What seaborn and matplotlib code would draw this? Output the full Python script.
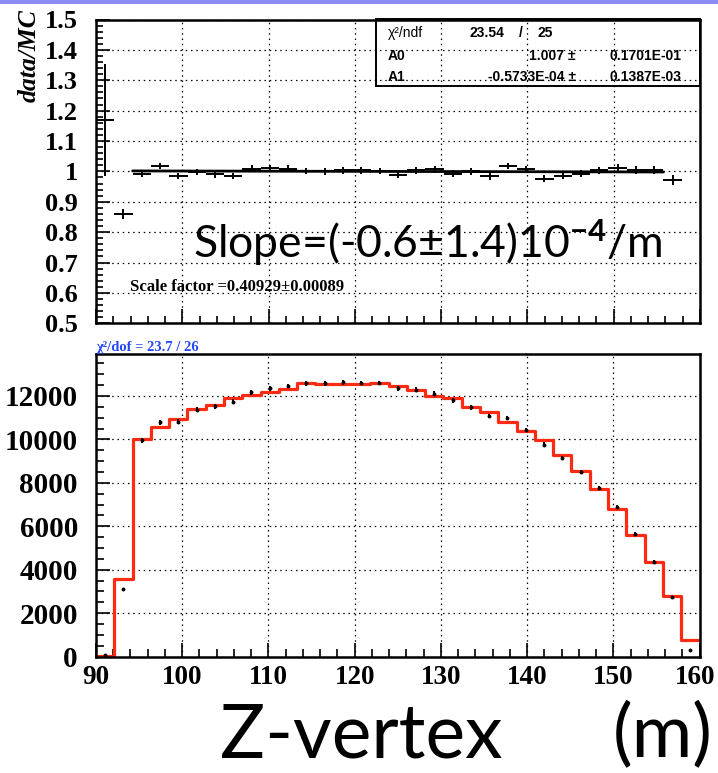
import numpy as np
import pandas as pd
import matplotlib
matplotlib.use("Agg")
import matplotlib.pyplot as plt
import matplotlib.transforms as mtransforms
import seaborn as sns
from matplotlib.ticker import MultipleLocator, FuncFormatter
from matplotlib.patches import Rectangle

# ---------------- data ----------------
x_min, x_max, n_bins = 90.0, 160.0, 33

mc_counts = [45, 3590, 10000, 10590, 10960, 11390, 11600, 11900, 12050, 12200,
             12340, 12590, 12560, 12570, 12570, 12600, 12460, 12265, 12020, 11910,
             11510, 11250, 10790, 10377, 9993, 9287, 8565, 7736, 6800, 5603,
             4344, 2794, 752]

data_counts = [53, 3100, 9950, 10790, 10820, 11375, 11530, 11740, 12170, 12360,
               12460, 12590, 12590, 12630, 12600, 12600, 12360, 12280, 12100, 11800,
               11480, 11080, 10990, 10440, 9763, 9133, 8489, 7782, 6877, 5649,
               4360, 2732, 307]

ratio_values = [1.170, 0.860, 0.993, 1.018, 0.985, 0.998, 0.990, 0.985, 1.009, 1.011,
                1.009, 1.001, 1.000, 1.004, 1.004, 1.001, 0.989, 1.003, 1.007, 0.992,
                1.000, 0.984, 1.018, 1.007, 0.976, 0.985, 0.992, 1.003, 1.011, 1.005,
                1.005, 0.971]

ratio_errors = [0.185, 0.016, 0.011, 0.011, 0.011, 0.011, 0.011, 0.011, 0.011, 0.011,
                0.011, 0.011, 0.011, 0.011, 0.011, 0.011, 0.011, 0.011, 0.011, 0.011,
                0.011, 0.011, 0.011, 0.011, 0.011, 0.011, 0.011, 0.012, 0.012, 0.013,
                0.014, 0.016]

fit_A0 = 1.007
fit_A1 = -0.5733e-4
fit_range = (94.24, 155.76)

stats_rows = [("A0", "1.007 \u00b1", "0.1701E-01"),
              ("A1", "-0.5733E-04 \u00b1", "0.1387E-03")]
chi2_text = "23.54"
ndf_text = "25"
scale_text = "Scale factor =0.40929\u00b10.00089"
slope_text = "Slope=(-0.6\u00b11.4)10$^{\\mathrm{-4}}$/m"
dof_text = "\u03c7\u00b2/dof = 23.7 / 26"
ratio_ticks = [0.5, 0.6, 0.7, 0.8, 0.9, 1.0, 1.1, 1.2, 1.3, 1.4, 1.5]
z_ticks = [90, 100, 110, 120, 130, 140, 150, 160]

# ---------------- style ----------------
sns.set_theme(style="ticks")
plt.rcParams.update({
    "font.family": ["Liberation Serif", "DejaVu Serif"],
    "font.weight": "bold",
    "axes.linewidth": 1.8,
    "axes.edgecolor": "black",
    "text.color": "black",
    "axes.labelcolor": "black",
    "xtick.color": "black",
    "ytick.color": "black",
    "mathtext.fontset": "custom",
    "mathtext.rm": "Lato",
    "mathtext.it": "Lato:italic",
    "mathtext.bf": "Lato:bold",
})

W, H = 718, 773
fig = plt.figure(figsize=(W / 100, H / 100), dpi=100)


def fx(px):
    return px / W


def fy(py):
    return 1 - py / H


ax1 = fig.add_axes([fx(96), fy(323.3), fx(700) - fx(96), fy(19.5) - fy(323.3)])
ax2 = fig.add_axes([fx(96), fy(656.5), fx(699.5) - fx(96), fy(354.3) - fy(656.5)])

edges = np.linspace(x_min, x_max, n_bins + 1)
centers = 0.5 * (edges[:-1] + edges[1:])
half_w = 0.5 * (edges[1:] - edges[:-1])

df = pd.DataFrame({"z": centers, "mc": mc_counts, "data": data_counts})

grid_kw = dict(color="black", linestyle=(0, (1.2, 3.0)), linewidth=0.9)

# ---------------- bottom panel ----------------
sns.histplot(data=df, x="z", weights="mc", bins=n_bins, binrange=(x_min, x_max),
             element="step", fill=False, color="#ff2a12", linewidth=2.3, ax=ax2)
ax2.errorbar(df["z"], df["data"], yerr=np.sqrt(df["data"]), fmt="o", ms=1.8,
             color="black", ecolor="black", elinewidth=1.4, capsize=0, zorder=5)
ax2.set_xlim(x_min, x_max)
ax2.set_ylim(0, 13920)
ax2.set_xticks(z_ticks)
ax2.set_xticklabels([str(t) for t in z_ticks])
ax2.xaxis.set_minor_locator(MultipleLocator(2))
ax2.yaxis.set_major_locator(MultipleLocator(2000))
ax2.yaxis.set_minor_locator(MultipleLocator(500))
ax2.tick_params(which="both", direction="in", top=False, right=False, width=1.2)
ax2.tick_params(which="major", length=10)
ax2.tick_params(which="minor", length=6)
ax2.tick_params(axis="y", labelsize=21, pad=13)
ax2.tick_params(axis="x", labelsize=19.5, pad=6)
ax2.grid(True, which="major", **grid_kw)
ax2.set_xlabel("")
ax2.set_ylabel("")
for lab in ax2.get_xticklabels() + ax2.get_yticklabels():
    lab.set_fontweight("bold")
# keep the last x label inside the picture
last_lab = ax2.get_xticklabels()[-1]
last_lab.set_transform(last_lab.get_transform() +
                       mtransforms.ScaledTranslation(-4 / 100, 0, fig.dpi_scale_trans))

# ---------------- top panel ----------------
ax1.errorbar(centers[:len(ratio_values)], ratio_values, xerr=half_w[:len(ratio_values)],
             yerr=ratio_errors, fmt="none", ecolor="black", elinewidth=1.4, capsize=0, zorder=4)
fit_x = np.array(fit_range)
fit_df = pd.DataFrame({"x": fit_x, "y": fit_A0 + fit_A1 * fit_x})
sns.lineplot(data=fit_df, x="x", y="y", color="black", linewidth=2.0, ax=ax1, zorder=5)
ax1.set_xlim(x_min, x_max)
ax1.set_ylim(0.5, 1.5)
ax1.xaxis.set_major_locator(MultipleLocator(10))
ax1.xaxis.set_minor_locator(MultipleLocator(2))
ax1.set_yticks(ratio_ticks)
ax1.yaxis.set_minor_locator(MultipleLocator(0.02))
ax1.yaxis.set_major_formatter(FuncFormatter(lambda v, p: f"{v:g}"))
ax1.tick_params(which="both", direction="in", top=False, right=False, width=1.2)
ax1.tick_params(which="major", length=10)
ax1.tick_params(which="minor", length=5)
ax1.tick_params(axis="y", labelsize=19, pad=13)
ax1.tick_params(axis="x", labelbottom=False)
ax1.grid(True, which="major", **grid_kw)
ax1.set_xlabel("")
ax1.set_ylabel("")
for lab in ax1.get_yticklabels():
    lab.set_fontweight("bold")

# ---------------- texts ----------------
fig.text(fx(29), fy(56), "data/MC", rotation=90, ha="center", va="center",
         fontsize=18.5, family="Liberation Serif", weight="bold", style="italic")

ax1.text(93.9, 0.605, scale_text, ha="left", va="baseline", fontsize=12,
         family="Liberation Serif", weight="bold", zorder=6)

fig.text(fx(193), fy(258), slope_text, ha="left", va="baseline", fontsize=32,
         family="Lato", weight="normal")

# stats box
fig.add_artist(Rectangle((fx(376), fy(86)), fx(700) - fx(376), fy(19.5) - fy(86),
                         transform=fig.transFigure, fill=False, edgecolor="black",
                         linewidth=1.4))
sfont = dict(family="Liberation Sans", fontsize=10, va="center")
fig.text(fx(388), fy(33), "\u03c7\u00b2/ndf", weight="normal", ha="left", **sfont)
fig.text(fx(504), fy(33), chi2_text, weight="bold", ha="right", **sfont)
fig.text(fx(521), fy(33), "/", weight="bold", ha="center", **sfont)
fig.text(fx(537), fy(33), ndf_text, weight="bold", ha="left", **sfont)
for i, (name, val, err) in enumerate(stats_rows):
    yy = fy(56 + 21 * i)
    fig.text(fx(388), yy, name, weight="bold", ha="left", **sfont)
    fig.text(fx(576), yy, val, weight="bold", ha="right", **sfont)
    fig.text(fx(610), yy, err, weight="bold", ha="left", **sfont)

fig.text(fx(96), fy(347), dof_text, ha="left", va="center", fontsize=10.5,
         family="Liberation Serif", weight="bold", color="#2448ff")

fig.text(fx(220), fy(757), "Z-vertex", ha="left", va="baseline", fontsize=54,
         family="Lato", weight="normal")
fig.text(fx(613), fy(757), "(m)", ha="left", va="baseline", fontsize=53,
         family="Lato", weight="normal")

# top band
fig.add_artist(Rectangle((0, fy(4)), 1, fy(0) - fy(4), transform=fig.transFigure,
                         color="#8c8cf2", linewidth=0))

fig.savefig("out.png", dpi=100)
